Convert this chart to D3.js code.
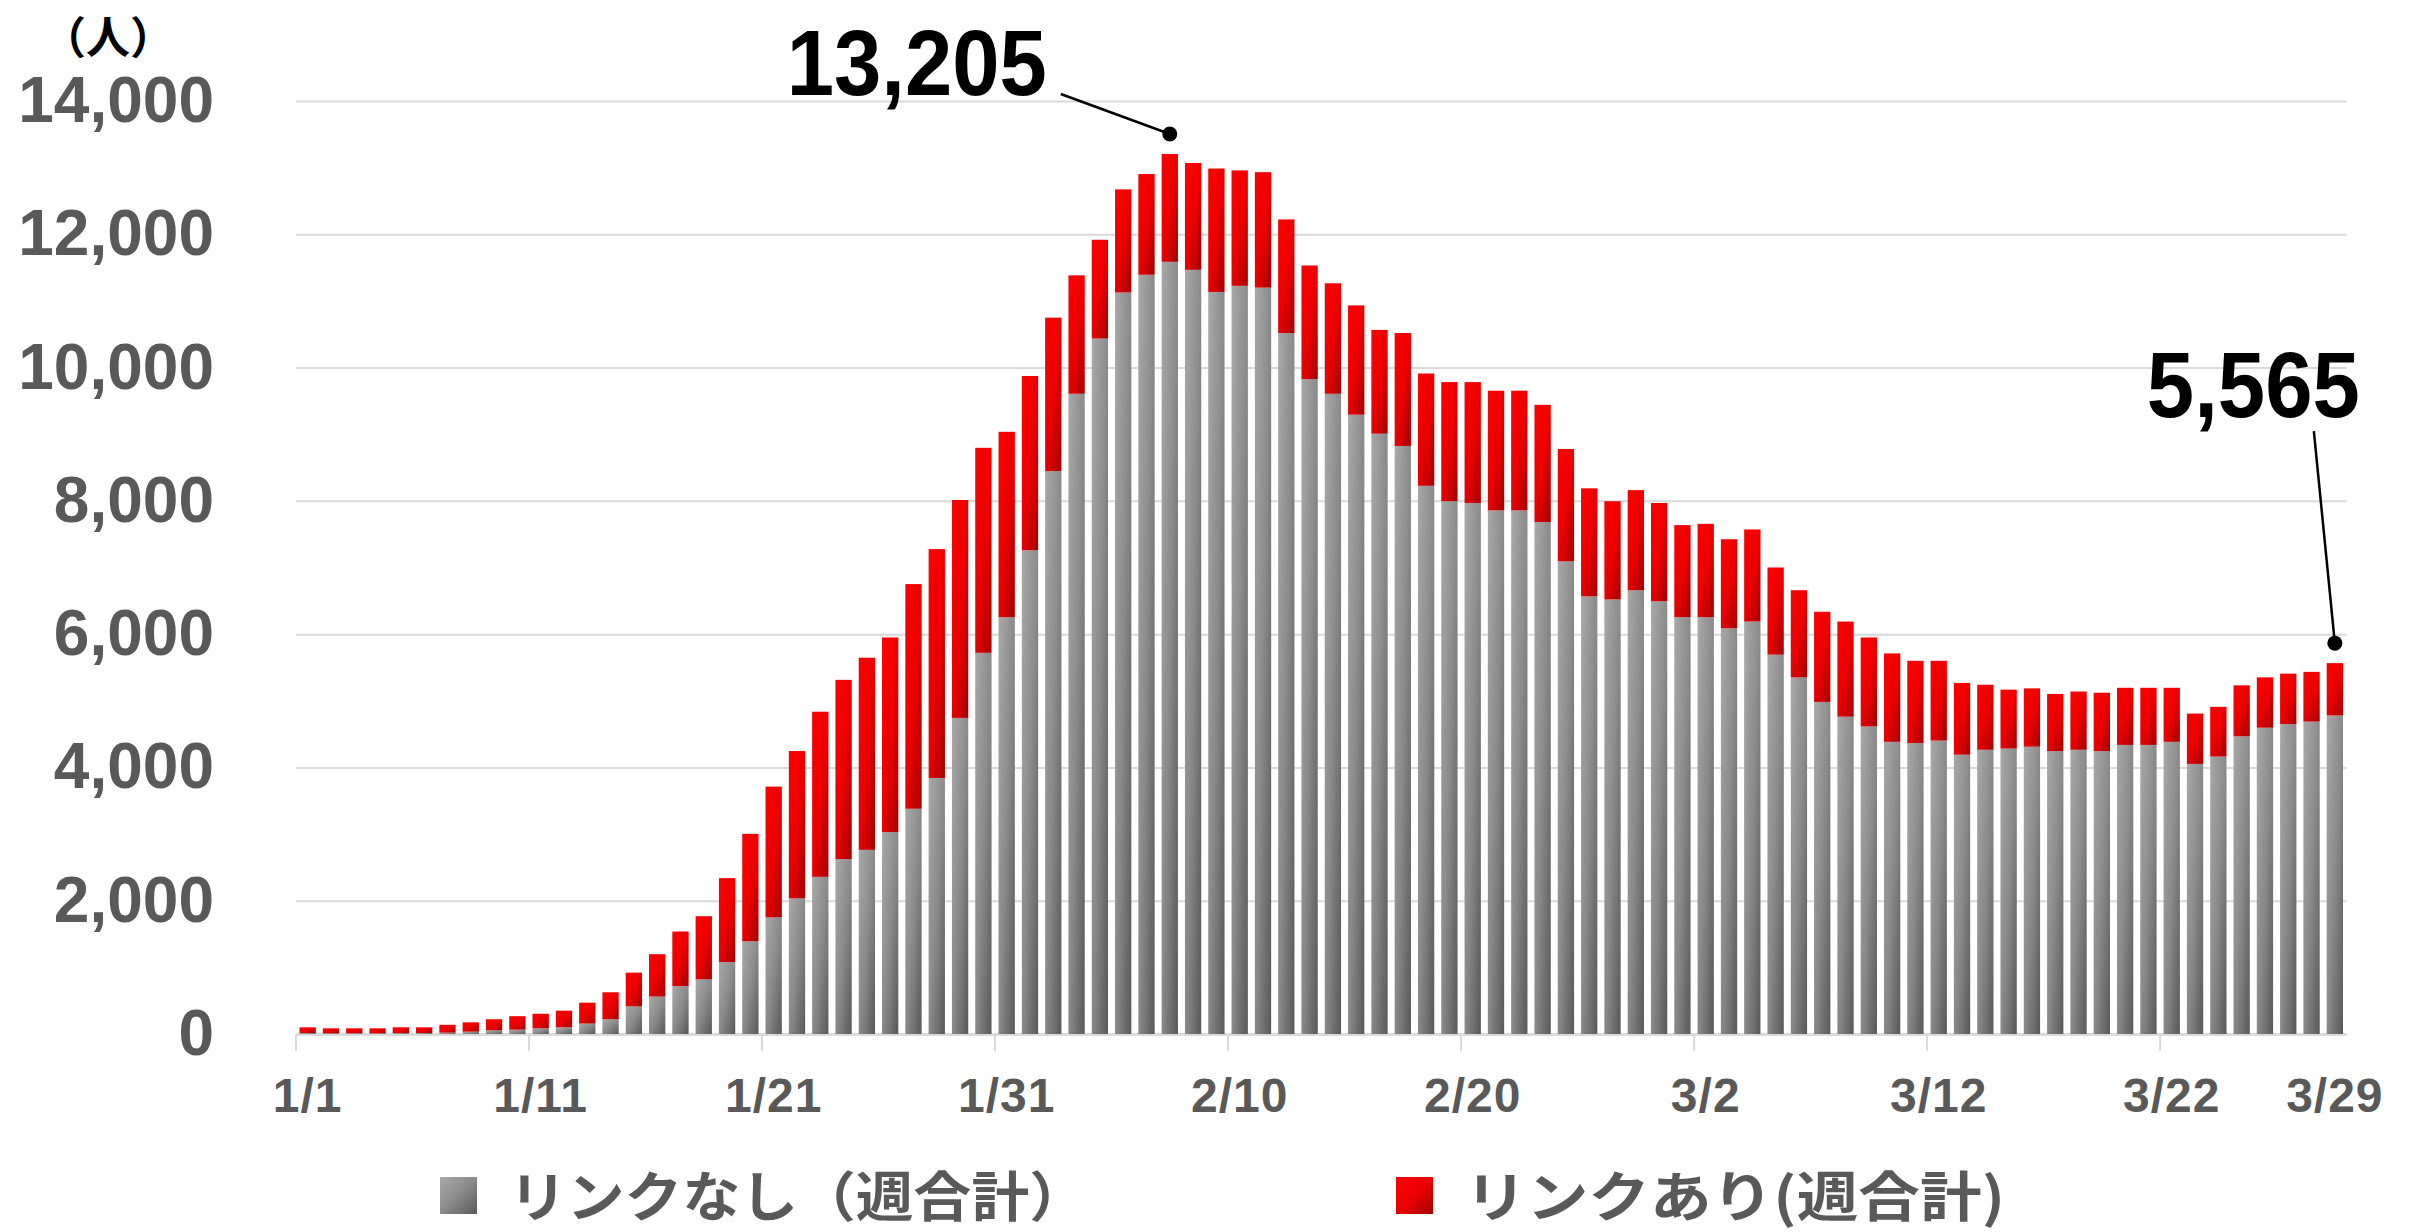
<!DOCTYPE html>
<html>
<head>
<meta charset="utf-8">
<script src="https://cdn.jsdelivr.net/npm/d3@7"></script>
<style>
body { margin: 0; background: #fff; }
</style>
</head>
<body>
<svg id="canvas" width="2420" height="1232"></svg>
<script>
let dates = [
    '1/1','1/2','1/3','1/4','1/5','1/6','1/7','1/8','1/9','1/10',
    '1/11','1/12','1/13','1/14','1/15','1/16','1/17','1/18','1/19','1/20',
    '1/21','1/22','1/23','1/24','1/25','1/26','1/27','1/28','1/29','1/30',
    '1/31','2/1','2/2','2/3','2/4','2/5','2/6','2/7','2/8','2/9',
    '2/10','2/11','2/12','2/13','2/14','2/15','2/16','2/17','2/18','2/19',
    '2/20','2/21','2/22','2/23','2/24','2/25','2/26','2/27','2/28','3/1',
    '3/2','3/3','3/4','3/5','3/6','3/7','3/8','3/9','3/10','3/11',
    '3/12','3/13','3/14','3/15','3/16','3/17','3/18','3/19','3/20','3/21',
    '3/22','3/23','3/24','3/25','3/26','3/27','3/28','3/29'
]

// リンクなし（週合計）
let nashiData = [
    15, 10, 10, 10, 12, 15, 20, 35, 55, 65,
    85, 100, 157, 221, 414, 562, 718, 820, 1078, 1391,
    1750, 2035, 2358, 2625, 2763, 3030, 3380, 3841, 4743, 5720,
    6254, 7258, 8446, 9607, 10436, 11126, 11393, 11587, 11467, 11135,
    11227, 11200, 10518, 9828, 9607, 9293, 9008, 8824, 8226, 7995,
    7968, 7857, 7857, 7682, 7092, 6567, 6521, 6659, 6493, 6254,
    6254, 6088, 6189, 5692, 5351, 4983, 4762, 4615, 4384, 4366,
    4403, 4191, 4265, 4283, 4311, 4246, 4265, 4246, 4338, 4338,
    4384, 4053, 4163, 4467, 4596, 4651, 4688, 4780
]

// リンクあり(週合計)
let ariData = [
    85, 75, 75, 75, 88, 85, 118, 140, 166, 202,
    219, 250, 313, 405, 507, 635, 820, 948, 1261, 1612,
    1962, 2211, 2478, 2689, 2883, 2920, 3371, 3435, 3270, 3076,
    2782, 2616, 2303, 1777, 1482, 1548, 1511, 1618, 1603, 1852,
    1732, 1732, 1705, 1704, 1658, 1640, 1557, 1695, 1685, 1787,
    1814, 1796, 1796, 1759, 1686, 1621, 1474, 1502, 1475, 1382,
    1401, 1336, 1382, 1308, 1308, 1353, 1427, 1335, 1327, 1234,
    1197, 1077, 976, 884, 875, 857, 874, 875, 857, 857,
    811, 755, 746, 765, 756, 756, 746, 785
]

let yTicks = [0, 2000, 4000, 6000, 8000, 10000, 12000, 14000]
let tickLabels = ['1/1', '1/11', '1/21', '1/31', '2/10', '2/20', '3/2', '3/12', '3/22', '3/29']
let tickMarkDates = ['1/1', '1/11', '1/21', '1/31', '2/10', '2/20', '3/2', '3/12', '3/22']
let seriesKeys = ['nashi', 'ari']
let legendLabels = ['リンクなし（週合計）', 'リンクあり(週合計)']
let unitLabel = '（人）'

let canvas = d3.select('#canvas')
let numFont = '"Liberation Sans", Arial, sans-serif'
let jpFont = '"Noto Sans CJK JP", "Noto Sans", sans-serif'

let left = 296, right = 2346.5
let xScale = d3.scaleBand()
    .domain(dates)
    .range([left, right])
    .paddingInner(0.3)
    .paddingOuter(0.15)
let yScale = d3.scaleLinear()
    .domain([0, 14000])
    .range([1034, 101])

// gradients
let defs = canvas.append('defs')
let makeGrad = (id, stops) => {
    let g = defs.append('linearGradient')
        .attr('id', id)
        .attr('x1', 0).attr('y1', 0)
        .attr('x2', 1).attr('y2', 1)
    stops.forEach((s) => {
        g.append('stop').attr('offset', s[0]).attr('stop-color', s[1])
    })
}
makeGrad('gradGray', [[0, '#a9a9a9'], [0.5, '#8a8a8a'], [1, '#595959']])
makeGrad('gradRed', [[0, '#ff0000'], [0.5, '#ec0000'], [1, '#a00000']])
let fills = { nashi: 'url(#gradGray)', ari: 'url(#gradRed)' }

// y axis + gridlines
let yAxis = canvas.append('g')
    .attr('transform', 'translate(' + left + ',0)')
    .call(d3.axisLeft(yScale)
        .tickValues(yTicks)
        .tickSize(-(right - left))
        .tickPadding(82)
        .tickFormat(d3.format(',')))
yAxis.select('.domain').remove()
yAxis.selectAll('.tick line')
    .attr('stroke', '#d9d9d9')
    .attr('stroke-width', 2)
yAxis.selectAll('.tick text')
    .attr('fill', '#595959')
    .style('font-family', numFont)
    .style('font-weight', 'bold')
    .style('font-size', '64px')

// x axis
let xAxis = canvas.append('g')
    .attr('transform', 'translate(0,' + yScale(0) + ')')
    .call(d3.axisBottom(xScale)
        .tickValues(tickLabels)
        .tickSize(0)
        .tickPadding(44))
xAxis.select('.domain')
    .attr('stroke', '#d9d9d9')
    .attr('stroke-width', 2.5)
xAxis.selectAll('.tick text')
    .attr('fill', '#595959')
    .style('font-family', numFont)
    .style('font-weight', 'bold')
    .style('font-size', '48px')
    .style('letter-spacing', '1px')

let half = xScale.step() * xScale.paddingInner() / 2
canvas.append('g')
    .selectAll('line')
    .data(tickMarkDates)
    .enter()
    .append('line')
    .attr('x1', (d) => xScale(d) - half)
    .attr('x2', (d) => xScale(d) - half)
    .attr('y1', yScale(0))
    .attr('y2', yScale(0) + 17)
    .attr('stroke', '#d9d9d9')
    .attr('stroke-width', 2)

// stacked bars
let table = dates.map((d, i) => {
    return { date: d, nashi: nashiData[i], ari: ariData[i] }
})
let stacked = d3.stack().keys(seriesKeys)(table)

canvas.append('g')
    .selectAll('g')
    .data(stacked)
    .enter()
    .append('g')
    .attr('fill', (s) => fills[s.key])
    .selectAll('rect')
    .data((s) => s)
    .enter()
    .append('rect')
    .attr('x', (d) => xScale(d.data.date))
    .attr('width', xScale.bandwidth())
    .attr('y', (d) => yScale(d[1]))
    .attr('height', (d) => yScale(d[0]) - yScale(d[1]))

// unit label
canvas.append('text')
    .attr('x', 108)
    .attr('y', 35)
    .attr('text-anchor', 'middle')
    .attr('dominant-baseline', 'central')
    .style('font-family', jpFont)
    .style('font-size', '44px')
    .style('font-weight', 'bold')
    .text(unitLabel)

// callouts: peak and latest
let totals = table.map((d) => d.nashi + d.ari)
let peakIdx = d3.maxIndex(totals)
let lastIdx = totals.length - 1

let callout = (idx, textDx, textDy, lineDx, lineDy, len) => {
    let cx = xScale(dates[idx]) + xScale.bandwidth() / 2
    let cy = yScale(totals[idx]) - 20
    let g = canvas.append('g')
    g.append('line')
        .attr('x1', cx + lineDx).attr('y1', cy + lineDy)
        .attr('x2', cx).attr('y2', cy)
        .attr('stroke', '#000')
        .attr('stroke-width', 2.5)
    g.append('circle')
        .attr('cx', cx).attr('cy', cy)
        .attr('r', 7.5)
        .attr('fill', '#000')
    g.append('text')
        .attr('x', cx + textDx)
        .attr('y', cy + textDy)
        .attr('text-anchor', 'end')
        .attr('textLength', len)
        .attr('lengthAdjust', 'spacingAndGlyphs')
        .style('font-family', numFont)
        .style('font-weight', 'bold')
        .style('font-size', '93px')
        .text(d3.format(',')(totals[idx]))
}
callout(peakIdx, -123, -39, -109, -40, 260)
callout(lastIdx, 25, -226, -21, -212, 213)

// legend
let legendX = [440, 1396]
let legendTextX = [509, 1465]
let legendW = [578, 540]
let legend = canvas.append('g')
seriesKeys.forEach((k, i) => {
    legend.append('rect')
        .attr('x', legendX[i])
        .attr('y', 1177)
        .attr('width', 37)
        .attr('height', 37)
        .attr('fill', fills[k])
    legend.append('text')
        .attr('x', legendTextX[i])
        .attr('y', 1193)
        .attr('dominant-baseline', 'central')
        .attr('textLength', legendW[i])
        .attr('lengthAdjust', 'spacingAndGlyphs')
        .attr('fill', '#595959')
        .style('font-family', jpFont)
        .style('font-weight', 'bold')
        .style('font-size', '54px')
        .text(legendLabels[i])
})
</script>
</body>
</html>
